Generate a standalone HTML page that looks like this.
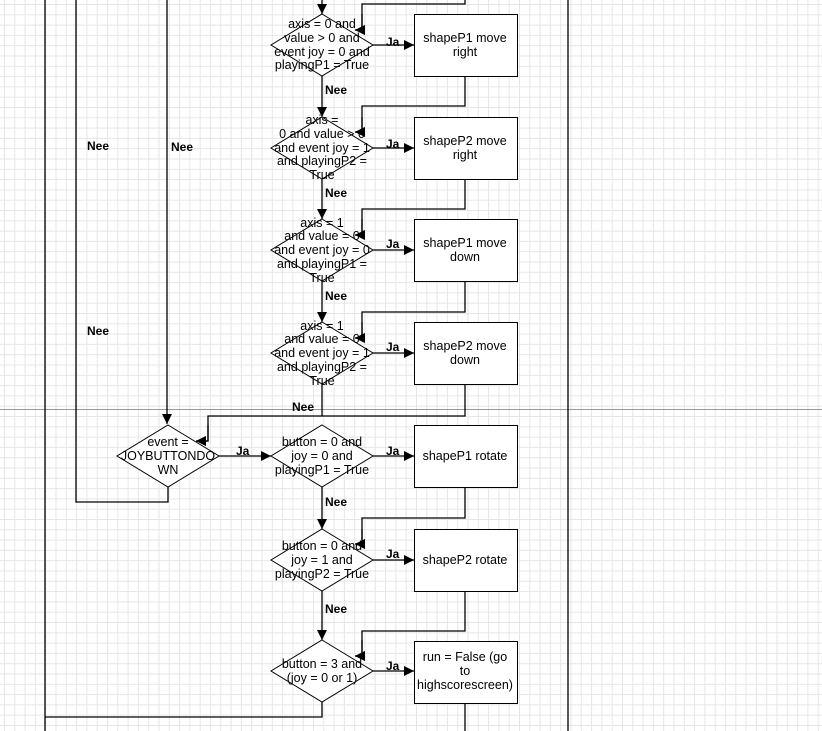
<!DOCTYPE html>
<html><head><meta charset="utf-8"><style>
html,body{margin:0;padding:0;background:#fff;}
svg{display:block;}
text{font-family:"Liberation Sans",Arial,sans-serif;font-size:12.5px;fill:#000;}
.b{font-weight:bold;font-size:12px;}
</style></head><body>
<svg width="822" height="731" viewBox="0 0 822 731" xmlns="http://www.w3.org/2000/svg">
<defs>
<pattern id="g" x="4" y="4" width="10.3" height="10.3" patternUnits="userSpaceOnUse">
<path d="M0 0.5H10.3M0.5 0V10.3" stroke="#e6e6e6" stroke-width="1" fill="none"/>
</pattern>
<marker id="a" viewBox="0 0 10 10" refX="10" refY="5" markerWidth="10" markerHeight="10" orient="auto" markerUnits="userSpaceOnUse">
<path d="M0 0L10 5L0 10z" fill="#000"/>
</marker>
</defs>
<rect width="822" height="731" fill="url(#g)"/>
<line x1="0" y1="409.5" x2="822" y2="409.5" stroke="#999" stroke-width="1"/>
<g stroke="#000" stroke-width="1.3" fill="none">
<line x1="45" y1="0" x2="45" y2="731"/>
<line x1="568" y1="0" x2="568" y2="731"/>
<polyline points="76,0 76,502 168,502 168,487"/>
<line x1="167" y1="0" x2="167" y2="424" marker-end="url(#a)"/>
<line x1="322" y1="0" x2="322" y2="14" marker-end="url(#a)"/>
<line x1="322" y1="76" x2="322" y2="117" marker-end="url(#a)"/>
<line x1="322" y1="179" x2="322" y2="219" marker-end="url(#a)"/>
<line x1="322" y1="281" x2="322" y2="322" marker-end="url(#a)"/>
<polyline points="322,384 322,416"/>
<line x1="322" y1="487" x2="322" y2="529" marker-end="url(#a)"/>
<line x1="322" y1="591" x2="322" y2="640" marker-end="url(#a)"/>
<polyline points="322,702 322,717 45,717"/>
<line x1="373" y1="45" x2="414" y2="45" marker-end="url(#a)"/>
<line x1="373" y1="148" x2="414" y2="148" marker-end="url(#a)"/>
<line x1="373" y1="250" x2="414" y2="250" marker-end="url(#a)"/>
<line x1="373" y1="353" x2="414" y2="353" marker-end="url(#a)"/>
<line x1="219" y1="456" x2="271" y2="456" marker-end="url(#a)"/>
<line x1="373" y1="456" x2="414" y2="456" marker-end="url(#a)"/>
<line x1="373" y1="560" x2="414" y2="560" marker-end="url(#a)"/>
<line x1="373" y1="671" x2="414" y2="671" marker-end="url(#a)"/>
<polyline points="465,0 465,4 362,4 362,30 355,30" marker-end="url(#a)"/>
<polyline points="465,76 465,106 362,106 362,132 355,132" marker-end="url(#a)"/>
<polyline points="465,179 465,209 362,209 362,235 355,235" marker-end="url(#a)"/>
<polyline points="465,282 465,312 362,312 362,338 355,338" marker-end="url(#a)"/>
<polyline points="465,384 465,416 208,416 208,441 196,441" marker-end="url(#a)"/>
<polyline points="465,487 465,518 362,518 362,544 355,544" marker-end="url(#a)"/>
<polyline points="465,591 465,631 362,631 362,656 355,656" marker-end="url(#a)"/>
<line x1="465" y1="703" x2="465" y2="731"/>
</g>
<g stroke="#000" stroke-width="1" fill="#fff">
<polygon points="322,14 373,45 322,76 271,45"/>
<polygon points="322,117 373,148 322,179 271,148"/>
<polygon points="322,219 373,250 322,281 271,250"/>
<polygon points="322,322 373,353 322,384 271,353"/>
<polygon points="168,425 219,456 168,487 117,456"/>
<polygon points="322,425 373,456 322,487 271,456"/>
<polygon points="322,529 373,560 322,591 271,560"/>
<polygon points="322,640 373,671 322,702 271,671"/>
<rect x="414.5" y="14.5" width="103" height="62"/>
<rect x="414.5" y="117.5" width="103" height="62"/>
<rect x="414.5" y="219.5" width="103" height="62"/>
<rect x="414.5" y="322.5" width="103" height="62"/>
<rect x="414.5" y="425.5" width="103" height="62"/>
<rect x="414.5" y="529.5" width="103" height="62"/>
<rect x="414.5" y="641.5" width="103" height="62"/>
</g>
<g stroke="#000" stroke-width="1.3" fill="none">
<polyline points="362,14 362,30 355,30" marker-end="url(#a)"/>
<polyline points="362,117 362,132 355,132" marker-end="url(#a)"/>
<polyline points="362,219 362,235 355,235" marker-end="url(#a)"/>
<polyline points="362,322 362,338 355,338" marker-end="url(#a)"/>
<polyline points="208,425 208,441 196,441" marker-end="url(#a)"/>
<polyline points="362,529 362,544 355,544" marker-end="url(#a)"/>
<polyline points="362,640 362,656 355,656" marker-end="url(#a)"/>
</g>
<g text-anchor="middle">
<text x="322" y="28">axis = 0 and</text>
<text x="322" y="42">value &gt; 0 and</text>
<text x="322" y="56">event joy = 0 and</text>
<text x="322" y="69">playingP1 = True</text>
<text x="322" y="124">axis =</text>
<text x="322" y="138">0 and value &gt; 0</text>
<text x="322" y="152">and event joy = 1</text>
<text x="322" y="165">and playingP2 =</text>
<text x="322" y="179">True</text>
<text x="322" y="227">axis = 1</text>
<text x="322" y="240">and value = 0</text>
<text x="322" y="254">and event joy = 0</text>
<text x="322" y="268">and playingP1 =</text>
<text x="322" y="282">True</text>
<text x="322" y="330">axis = 1</text>
<text x="322" y="343">and value = 0</text>
<text x="322" y="357">and event joy = 1</text>
<text x="322" y="371">and playingP2 =</text>
<text x="322" y="385">True</text>
<text x="168" y="446">event =</text>
<text x="168" y="460">JOYBUTTONDO</text>
<text x="168" y="474">WN</text>
<text x="322" y="446">button = 0 and</text>
<text x="322" y="460">joy = 0 and</text>
<text x="322" y="474">playingP1 = True</text>
<text x="322" y="550">button = 0 and</text>
<text x="322" y="564">joy = 1 and</text>
<text x="322" y="578">playingP2 = True</text>
<text x="322" y="668">button = 3 and</text>
<text x="322" y="682">(joy = 0 or 1)</text>
<text x="465" y="42">shapeP1 move</text>
<text x="465" y="56">right</text>
<text x="465" y="145">shapeP2 move</text>
<text x="465" y="159">right</text>
<text x="465" y="247">shapeP1 move</text>
<text x="465" y="261">down</text>
<text x="465" y="350">shapeP2 move</text>
<text x="465" y="364">down</text>
<text x="465" y="460">shapeP1 rotate</text>
<text x="465" y="564">shapeP2 rotate</text>
<text x="465" y="661">run = False (go</text>
<text x="465" y="675">to</text>
<text x="465" y="689">highscorescreen)</text>
</g>
<g>
<text x="386" y="46" class="b">Ja</text>
<text x="386" y="148" class="b">Ja</text>
<text x="386" y="248" class="b">Ja</text>
<text x="386" y="351" class="b">Ja</text>
<text x="236" y="455" class="b">Ja</text>
<text x="386" y="455" class="b">Ja</text>
<text x="386" y="558" class="b">Ja</text>
<text x="386" y="670" class="b">Ja</text>
<text x="325" y="94" class="b">Nee</text>
<text x="325" y="197" class="b">Nee</text>
<text x="325" y="300" class="b">Nee</text>
<text x="292" y="411" class="b">Nee</text>
<text x="325" y="506" class="b">Nee</text>
<text x="325" y="613" class="b">Nee</text>
<text x="87" y="150" class="b">Nee</text>
<text x="171" y="151" class="b">Nee</text>
<text x="87" y="335" class="b">Nee</text>
</g>
</svg>
</body></html>
